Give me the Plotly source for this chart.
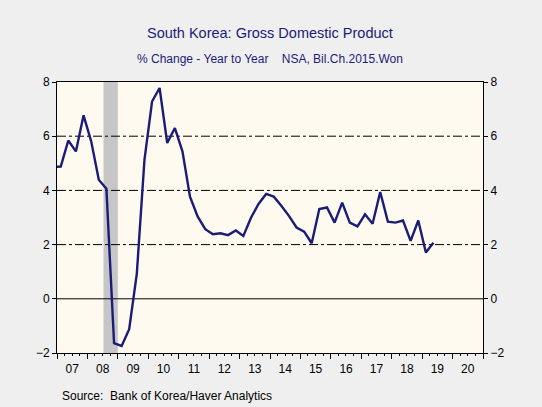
import plotly.graph_objects as go
import pandas as pd

# quarterly % change year to year, 2006Q4 - 2019Q2
quarters = pd.period_range("2006Q4", "2019Q2", freq="Q")
gdp_yoy = [
    4.86,
    4.88, 5.84, 5.44, 6.77,
    5.81, 4.39, 4.06, -1.64,
    -1.74, -1.12, 0.92, 5.13,
    7.28, 7.78, 5.75, 6.30,
    5.44, 3.77, 3.04, 2.57,
    2.38, 2.42, 2.35, 2.52,
    2.32, 2.98, 3.50, 3.87,
    3.77, 3.43, 3.06, 2.63,
    2.48, 2.05, 3.31, 3.37,
    2.81, 3.55, 2.81, 2.67,
    3.12, 2.77, 3.94, 2.85,
    2.81, 2.89, 2.14, 2.89,
    1.71, 2.07,
]
# plot each quarter at its midpoint
dates = [p.start_time + (p.end_time - p.start_time) / 2 for p in quarters]

recession = ("2008-07-12", "2008-12-31")
y_ticks = [-2, 0, 2, 4, 6, 8]

navy = "#1b1b78"
font = "Liberation Sans, Arial, sans-serif"

fig = go.Figure()

fig.add_trace(go.Scatter(
    x=dates, y=gdp_yoy, mode="lines",
    line=dict(color=navy, width=2.4),
    showlegend=False, hoverinfo="skip",
))
# dummy trace so the right-hand axis is drawn
fig.add_trace(go.Scatter(x=[dates[1]], y=[0], yaxis="y2", mode="markers",
                         marker=dict(opacity=0), showlegend=False, hoverinfo="skip"))

fig.add_vrect(x0=recession[0], x1=recession[1], fillcolor="#c6c6c6",
              line_width=0, layer="below")

# dash-dot grid at 2, 4, 6 and a solid zero line
for v in y_ticks:
    if v in (-2, 8):
        continue
    fig.add_hline(y=v, line=dict(color="black", width=1,
                                 dash="solid" if v == 0 else "dashdot"),
                  layer="below")

fig.update_layout(
    width=542, height=407,
    margin=dict(l=57, r=59, t=82, b=54),
    paper_bgcolor="#efefef",
    plot_bgcolor="#fffaf0",
    font=dict(family=font, size=12, color="black"),
    xaxis=dict(
        type="date",
        range=["2007-01-01", "2021-01-01"],
        tick0="2007-01-01", dtick="M12",
        tickformat="%y", ticklabelmode="period",
        ticks="outside", ticklen=5, tickcolor="black",
        minor=dict(dtick="M3", ticks="outside", ticklen=2, tickcolor="black", showgrid=False),
        showgrid=False, showline=True, linecolor="black", linewidth=1, mirror=True,
        zeroline=False, tickfont=dict(size=12),
    ),
    yaxis=dict(
        range=[-2, 8], tickvals=y_ticks,
        ticks="outside", ticklen=4, tickcolor="black",
        showgrid=False, zeroline=False,
        showline=True, linecolor="black", linewidth=1,
        tickfont=dict(size=12),
    ),
    yaxis2=dict(
        range=[-2, 8], tickvals=y_ticks, overlaying="y", side="right",
        ticks="outside", ticklen=4, tickcolor="black",
        showgrid=False, zeroline=False,
        showline=True, linecolor="black", linewidth=1,
        tickfont=dict(size=12),
    ),
    annotations=[
        dict(text="South Korea: Gross Domestic Product", x=0.5, y=1.181,
             xref="paper", yref="paper", showarrow=False, yanchor="middle",
             font=dict(size=14.5, color=navy)),
        dict(text="% Change - Year to Year\u00a0\u00a0\u00a0\u00a0NSA, Bil.Ch.2015.Won",
             x=0.5, y=1.085, xref="paper", yref="paper", showarrow=False,
             yanchor="middle", font=dict(size=12, color=navy)),
        dict(text="Source:\u00a0 Bank of Korea/Haver Analytics",
             x=(60 - 57) / (542 - 57 - 59), y=-0.159,
             xref="paper", yref="paper", showarrow=False, xanchor="left",
             yanchor="middle", font=dict(size=12, color="black")),
    ],
)

# drop the browser's default body margin so the figure fills the window
fig.write_html("out.html", config={"displayModeBar": False},
               post_script="document.body.style.margin='0';")
